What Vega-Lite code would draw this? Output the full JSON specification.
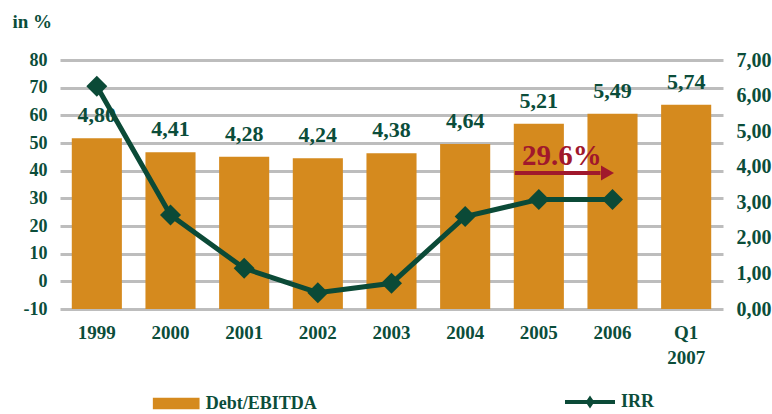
{
  "$schema": "https://vega.github.io/schema/vega-lite/v6.json",
  "width": 663,
  "height": 249,
  "autosize": {"type": "none"},
  "padding": {"left": 60, "top": 60, "right": 49, "bottom": 105},
  "background": "white",
  "config": {
    "view": {"stroke": null},
    "font": "Liberation Serif",
    "axis": {
      "labelFont": "Liberation Serif",
      "labelFontWeight": "bold",
      "labelColor": "#0B4D3A",
      "titleFont": "Liberation Serif",
      "titleFontWeight": "bold",
      "titleColor": "#0B4D3A",
      "domain": false,
      "ticks": false,
      "labelOverlap": false
    },
    "axisX": {"grid": false},
    "legend": {
      "labelFont": "Liberation Serif",
      "labelFontWeight": "bold",
      "labelColor": "#0B4D3A",
      "labelFontSize": 18,
      "title": null
    }
  },
  "data": {
    "values": [
      {"year": "1999", "debt": 4.80, "debtLabel": "4,80", "irr": 70.5},
      {"year": "2000", "debt": 4.41, "debtLabel": "4,41", "irr": 24.0},
      {"year": "2001", "debt": 4.28, "debtLabel": "4,28", "irr": 4.7},
      {"year": "2002", "debt": 4.24, "debtLabel": "4,24", "irr": -4.1},
      {"year": "2003", "debt": 4.38, "debtLabel": "4,38", "irr": -0.7},
      {"year": "2004", "debt": 4.64, "debtLabel": "4,64", "irr": 23.4},
      {"year": "2005", "debt": 5.21, "debtLabel": "5,21", "irr": 29.6},
      {"year": "2006", "debt": 5.49, "debtLabel": "5,49", "irr": 29.6},
      {"year": "Q1 2007", "debt": 5.74, "debtLabel": "5,74", "irr": null}
    ]
  },
  "layer": [
    {
      "encoding": {
        "x": {
          "field": "year",
          "type": "nominal",
          "scale": {"domain": ["1999", "2000", "2001", "2002", "2003", "2004", "2005", "2006", "Q1 2007"], "paddingInner": 0.32, "paddingOuter": 0.16},
          "axis": {
            "title": null,
            "labelAngle": 0,
            "labelFontSize": 19,
            "labelPadding": 14,
            "labelLineHeight": 25,
            "labelExpr": "datum.value == 'Q1 2007' ? ['Q1', '2007'] : datum.value"
          }
        },
        "y": {
          "field": "debt",
          "type": "quantitative",
          "scale": {"domain": [0, 7], "nice": false},
          "axis": {
            "orient": "right",
            "title": null,
            "grid": false,
            "labelOverlap": false,
            "values": [0, 1, 2, 3, 4, 5, 6, 7],
            "labelFontSize": 20,
            "labelPadding": 13,
            "labelExpr": "replace(format(datum.value, '.2f'), '.', ',')"
          }
        }
      },
      "layer": [
        {
          "data": {"values": [{"year": "2005", "debt": 4.8, "debtLow": 3.65}]},
          "mark": {"type": "bar", "color": "white", "width": 28, "xOffset": 37},
          "encoding": {
            "y2": {"field": "debtLow"}
          }
        },
        {
          "mark": {"type": "bar"},
          "encoding": {
            "fill": {
              "datum": "Debt/EBITDA",
              "type": "nominal",
              "scale": {"range": ["#D58A1E"]},
              "legend": {
                "orient": "none",
                "legendX": 92.7,
                "legendY": 320,
                "symbolType": "M-1,-0.25H1V0.25H-1Z",
                "symbolSize": 2181,
                "symbolStrokeWidth": 0,
                "labelOffset": 6
              }
            }
          }
        },
        {
          "mark": {"type": "text", "font": "Liberation Serif", "fontWeight": "bold", "fontSize": 22, "color": "#0B4D3A", "baseline": "alphabetic", "dy": -16},
          "encoding": {
            "text": {"field": "debtLabel"}
          }
        }
      ]
    },
    {
      "encoding": {
        "x": {"field": "year", "type": "nominal"},
        "y": {
          "field": "irr",
          "type": "quantitative",
          "scale": {"domain": [-10, 80], "nice": false, "zero": false},
          "axis": {
            "orient": "left",
            "values": [-10, 0, 10, 20, 30, 40, 50, 60, 70, 80],
            "grid": true,
            "gridColor": "#BDBDBD",
            "gridWidth": 3,
            "gridOpacity": 1,
            "labelOverlap": false,
            "labelFontSize": 18,
            "labelPadding": 13,
            "labelExpr": "'' + datum.value",
            "title": "in %",
            "titleAngle": 0,
            "titleX": -48,
            "titleY": -33,
            "titleAlign": "left",
            "titleBaseline": "alphabetic",
            "titleFontSize": 19
          }
        }
      },
      "layer": [
        {
          "transform": [{"filter": "datum.irr != null"}],
          "mark": {"type": "line", "strokeWidth": 5},
          "encoding": {
            "stroke": {
              "datum": "IRR",
              "type": "nominal",
              "scale": {"range": ["#0B4A37"]},
              "legend": {
                "orient": "none",
                "legendX": 503,
                "legendY": 315,
                "symbolType": "M-1,0H1M0,-0.12L0.08,0L0,0.12L-0.08,0Z",
                "symbolSize": 2500,
                "symbolStrokeWidth": 4,
                "labelOffset": 4
              }
            }
          }
        },
        {
          "transform": [{"filter": "datum.irr != null"}],
          "mark": {"type": "point", "shape": "diamond", "filled": true, "size": 440, "color": "#0B4A37", "opacity": 1}
        },
        {
          "data": {"values": [{"year": "2005", "to": "2006", "irr": 39.2}]},
          "mark": {"type": "rule", "color": "#A0182C", "strokeWidth": 4, "xOffset": -24, "x2Offset": -12},
          "encoding": {
            "x2": {"field": "to"}
          }
        },
        {
          "data": {"values": [{"year": "2006", "irr": 39.2}]},
          "mark": {"type": "point", "shape": "triangle-right", "filled": true, "size": 225, "color": "#A0182C", "opacity": 1, "xOffset": -5}
        },
        {
          "data": {"values": [{"year": "2005", "irr": 42.0, "label": "29.6%"}]},
          "mark": {"type": "text", "font": "Liberation Serif", "fontWeight": "bold", "fontSize": 29, "color": "#A0182C", "baseline": "alphabetic", "align": "center", "xOffset": 23},
          "encoding": {
            "text": {"field": "label"}
          }
        }
      ]
    }
  ],
  "resolve": {"scale": {"y": "independent", "fill": "independent", "stroke": "independent"}}
}
